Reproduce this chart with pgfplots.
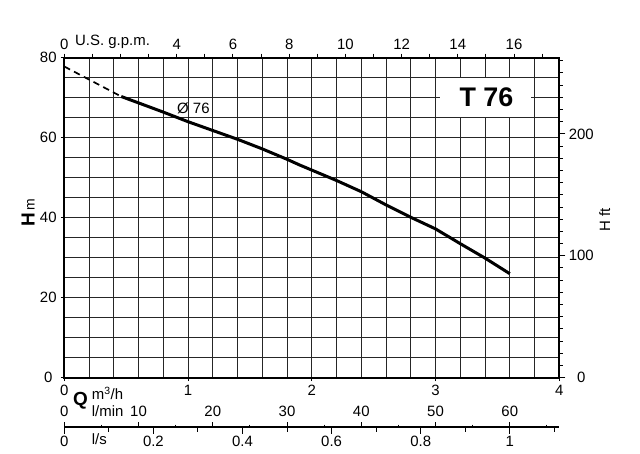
\documentclass[border=0pt]{standalone}
\usepackage{fontspec}
\setmainfont{Liberation Sans}
\usepackage{pgfplots}
\pgfplotsset{compat=1.18}
\pgfplotsset{
  /pgf/number format/assume math mode=true,
  every tick label/.append style={font=\fontsize{15}{18}\selectfont, inner sep=0pt},
  base/.style={scale only axis, width=495bp, height=320bp,
    axis line style={line width=1.8bp, black},
    tick style={black, line width=1bp}},
}
\begin{document}
\begin{tikzpicture}[font=\fontsize{15}{18}\selectfont]
\useasboundingbox (0,0) rectangle (640bp,454bp);
% main axis (m3/h, m)
\begin{axis}[base, at={(64.3bp,76.3bp)}, anchor=south west,
  xmin=0, xmax=4, ymin=0, ymax=80,
  xtick={0,1,2,3,4}, ytick={0,20,40,60,80},
  minor xtick={0.2,0.4,0.6,0.8,1.2,1.4,1.6,1.8,2.2,2.4,2.6,2.8,3.2,3.4,3.6,3.8},
  minor ytick={5,10,15,25,30,35,45,50,55,65,70,75},
  grid=both,
  major grid style={black!85, line width=0.75bp},
  minor grid style={black!85, line width=0.75bp},
  tick align=outside, xtick pos=bottom, ytick pos=left,
  major tick length=3.5bp, minor tick length=0pt,
  xticklabel style={anchor=center, yshift=-9.5bp},
  yticklabel style={anchor=center, xshift=-12.5bp},
]
\addplot[black, line width=1.7bp, dash pattern=on 6.5bp off 4.5bp] coordinates {(0,77.8) (0.46,70.3)};
\addplot[black, line width=3bp] coordinates {
(0.46,70.3) (0.6,68.7) (0.8,66.4) (1.0,64.0) (1.2,61.8) (1.4,59.6) (1.6,57.2)
(1.8,54.6) (1.9,53.2) (2.0,51.9) (2.2,49.3) (2.4,46.5) (2.6,43.2) (2.8,40.1)
(3.0,37.2) (3.2,33.5) (3.4,29.9) (3.6,26.0)};
\end{axis}
% top axis (US gpm)
\begin{axis}[base, at={(64.3bp,76.3bp)}, anchor=south west,
  xmin=0, xmax=17.6115, ymin=0, ymax=1,
  axis x line*=top, axis y line=none,
  xtick={0,1,2,3,4,5,6,7,8,9,10,11,12,13,14,15,16,17},
  xticklabels={0,,,,4,,6,,8,,10,,12,,14,,16,},
  tick align=outside, major tick length=4bp,
  xticklabel style={anchor=center, yshift=9bp},
]
\end{axis}
% right axis (ft)
\begin{axis}[base, at={(64.3bp,76.3bp)}, anchor=south west,
  xmin=0, xmax=1, ymin=0, ymax=262.467,
  axis y line*=right, axis x line=none,
  ytick={0,100,200},
  minor ytick={10,20,30,40,50,60,70,80,90,110,120,130,140,150,160,170,180,190,210,220,230,240,250,260},
  tick align=outside, major tick length=6bp, minor tick length=3.5bp,
  yticklabel style={anchor=center, xshift=16bp},
]
\end{axis}
% l/min axis
\begin{axis}[scale only axis, width=495bp, height=10bp, at={(64.3bp,17bp)}, anchor=south west,
  axis line style={line width=1.6bp, black}, tick style={black, line width=1bp},
  xmin=0, xmax=66.6667, ymin=0, ymax=1,
  axis x line*=top, axis y line=none,
  xtick={0,10,20,30,40,50,60}, minor xtick={5,15,25,35,45,55,65},
  tick align=outside, major tick length=4.5bp, minor tick length=2.5bp,
  xticklabel style={anchor=center, yshift=11bp},
]
\end{axis}
% l/s axis
\begin{axis}[scale only axis, width=495bp, height=10bp, at={(64.3bp,27bp)}, anchor=south west,
  axis line style={line width=1.6bp, black}, tick style={black, line width=1bp},
  xmin=0, xmax=1.11111, ymin=0, ymax=1,
  axis x line*=bottom, axis y line=none,
  xtick={0,0.2,0.4,0.6,0.8,1}, xticklabels={0,0.2,0.4,0.6,0.8,1},
  minor xtick={0.1,0.3,0.5,0.7,0.9,1.1},
  tick align=outside, major tick length=6.5bp, minor tick length=4.5bp,
  xticklabel style={anchor=center, yshift=-8bp},
]
\end{axis}
% labels
\fill[white] (440bp,337bp) rectangle (531bp,376bp);
\node[anchor=base west, inner sep=0pt, font=\bfseries\fontsize{27}{30}\selectfont] at (459.3bp,347.3bp) {T 76};
\node[anchor=base west, inner sep=0pt] at (177bp,340.7bp) {Ø 76};
\node[anchor=base west, inner sep=0pt] at (75bp,408bp) {U.S. g.p.m.};
\node[anchor=base west, inner sep=0pt, rotate=90] at (34.5bp,227bp) {{\bfseries\fontsize{19}{20}\selectfont H}\,{\fontsize{14}{16}\selectfont m}};
\node[anchor=base west, inner sep=0pt, rotate=90] at (610bp,222bp) {H ft};
\node[anchor=base west, inner sep=0pt, font=\bfseries\fontsize{19}{20}\selectfont] at (73bp,48bp) {Q};
\node[anchor=base west, inner sep=0pt] at (91.7bp,54.7bp) {m\textsuperscript{3}/h};
\node[anchor=base west, inner sep=0pt] at (91.7bp,37.3bp) {l/min};
\node[anchor=base west, inner sep=0pt] at (91.7bp,10bp) {l/s};
\end{tikzpicture}
\end{document}
